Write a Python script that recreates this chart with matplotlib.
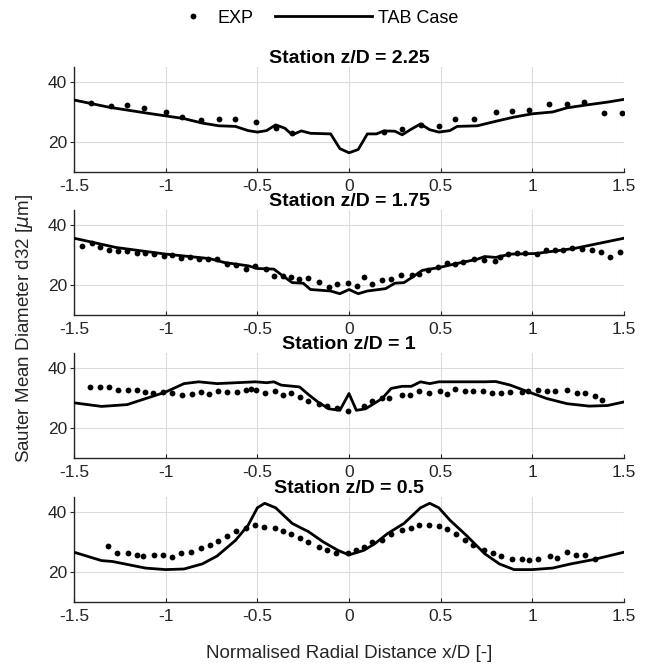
import matplotlib.pyplot as plt
from matplotlib.lines import Line2D

plt.rcParams['font.family'] = ['Liberation Sans', 'DejaVu Sans']

# Station z/D = 2.25
x_exp_225 = [-1.41, -1.30, -1.21, -1.12, -1.00, -0.91, -0.81, -0.71, -0.62, -0.51, -0.40, -0.31,
             0.19, 0.29, 0.39, 0.49, 0.58, 0.68, 0.80, 0.89, 0.98, 1.09, 1.19, 1.28, 1.39, 1.49]
d32_exp_225 = [33.0, 31.9, 32.1, 31.1, 29.9, 28.1, 27.3, 27.7, 27.7, 26.6, 24.5, 22.8,
               23.3, 24.3, 25.6, 25.4, 27.6, 27.7, 29.8, 30.1, 30.6, 32.7, 32.7, 33.2, 29.6, 29.6]
x_tab_225 = [-1.5, -1.31, -1.11, -0.90, -0.80, -0.71, -0.62, -0.55, -0.50, -0.45, -0.40, -0.35,
             -0.31, -0.26, -0.21, -0.10, -0.05, 0.0, 0.05, 0.10, 0.15, 0.19, 0.25, 0.29, 0.34,
             0.39, 0.44, 0.49, 0.55, 0.59, 0.70, 0.80, 0.90, 1.00, 1.11, 1.19, 1.29, 1.41, 1.5]
d32_tab_225 = [33.9, 31.5, 29.6, 27.7, 26.2, 25.3, 25.1, 23.7, 23.2, 23.7, 25.6, 24.5,
               22.3, 23.6, 22.8, 22.6, 17.7, 16.3, 17.4, 22.6, 22.6, 23.6, 23.5, 22.3, 24.2,
               25.9, 24.0, 23.2, 23.7, 25.1, 25.3, 26.8, 28.2, 29.3, 29.9, 31.3, 32.2, 33.2, 34.1]

# Station z/D = 1.75
x_exp_175 = [-1.455, -1.404, -1.357, -1.307, -1.258, -1.209, -1.158, -1.111, -1.062, -1.008,
             -0.963, -0.916, -0.865, -0.816, -0.769, -0.718, -0.666, -0.615, -0.564, -0.513,
             -0.451, -0.410, -0.359, -0.314, -0.271, -0.226, -0.161, -0.109, -0.066, -0.005,
             0.046, 0.081, 0.126, 0.179, 0.228, 0.286, 0.343, 0.384, 0.433, 0.486,
             0.532, 0.577, 0.624, 0.679, 0.736, 0.798, 0.822, 0.869, 0.917, 0.962,
             1.027, 1.074, 1.121, 1.167, 1.218, 1.269, 1.326, 1.375, 1.422, 1.480]
d32_exp_175 = [33.1, 33.9, 32.8, 31.8, 31.4, 31.4, 30.6, 30.8, 30.3, 29.7,
               30.1, 28.9, 29.4, 28.8, 28.8, 28.6, 26.9, 26.7, 25.3, 26.4,
               25.3, 23.1, 23.1, 22.8, 22.1, 22.2, 21.1, 19.3, 20.2, 20.6,
               19.7, 22.7, 20.4, 21.7, 21.9, 23.4, 23.2, 23.6, 24.9, 26.0,
               27.2, 26.9, 27.8, 28.6, 28.3, 28.0, 29.5, 30.5, 30.6, 30.8,
               30.3, 31.7, 31.7, 31.6, 32.2, 31.9, 31.6, 31.0, 29.5, 31.0]
x_tab_175 = [-1.5, -1.27, -1.00, -0.76, -0.68, -0.55, -0.50, -0.41, -0.36, -0.31, -0.25,
             -0.21, -0.10, -0.05, 0.0, 0.05, 0.10, 0.20, 0.25, 0.30, 0.35, 0.40, 0.49,
             0.59, 0.70, 0.74, 0.80, 0.88, 1.02, 1.23, 1.5]
d32_tab_175 = [35.6, 32.5, 30.3, 28.8, 27.5, 26.4, 25.5, 25.3, 23.0, 20.8, 20.6,
               18.5, 18.0, 17.1, 18.5, 17.1, 18.0, 18.8, 20.6, 20.8, 22.8, 24.9, 25.8,
               27.2, 28.6, 29.5, 29.2, 30.3, 30.5, 32.2, 35.6]

# Station z/D = 1
x_exp_1 = [-1.414, -1.357, -1.307, -1.260, -1.205, -1.154, -1.111, -1.070, -1.015, -0.963,
           -0.912, -0.857, -0.810, -0.763, -0.714, -0.666, -0.611, -0.564, -0.533, -0.509,
           -0.458, -0.406, -0.359, -0.314, -0.267, -0.222, -0.165, -0.118, -0.066, -0.005,
           0.081, 0.128, 0.179, 0.220, 0.290, 0.331, 0.384, 0.439, 0.495, 0.532,
           0.577, 0.630, 0.675, 0.732, 0.781, 0.828, 0.880, 0.945, 0.978, 1.029,
           1.080, 1.125, 1.187, 1.244, 1.285, 1.340, 1.381]
d32_exp_1 = [33.8, 33.8, 33.8, 32.9, 32.9, 32.7, 32.1, 31.9, 32.1, 31.8,
             31.2, 31.3, 32.1, 31.3, 32.5, 32.1, 32.1, 32.7, 33.0, 32.9,
             31.9, 32.5, 31.0, 31.9, 30.4, 29.0, 28.2, 27.6, 26.9, 25.7,
             27.6, 29.0, 30.2, 30.1, 31.2, 31.2, 32.4, 31.9, 32.4, 31.4,
             33.0, 32.4, 32.4, 32.4, 31.9, 31.9, 32.1, 32.1, 32.4, 32.9,
             32.4, 32.4, 32.9, 31.9, 31.9, 30.8, 29.6]
x_tab_1 = [-1.5, -1.35, -1.21, -1.11, -1.00, -0.90, -0.82, -0.72, -0.51, -0.45, -0.41,
           -0.37, -0.27, -0.22, -0.17, -0.11, -0.05, 0.0, 0.04, 0.09, 0.18, 0.23, 0.29,
           0.34, 0.39, 0.44, 0.49, 0.74, 0.80, 0.88, 0.98, 1.08, 1.19, 1.31, 1.41, 1.5]
d32_tab_1 = [28.5, 27.3, 27.9, 29.9, 32.1, 34.9, 35.5, 34.9, 35.5, 35.2, 35.5,
             34.4, 33.8, 31.2, 28.8, 26.5, 26.0, 31.6, 26.0, 26.5, 29.9, 33.3, 34.0,
             34.0, 35.5, 34.9, 35.5, 35.5, 35.6, 34.4, 32.1, 29.9, 28.2, 27.4, 27.6, 28.8]

# Station z/D = 0.5
x_exp_05 = [-1.312, -1.264, -1.205, -1.158, -1.123, -1.066, -1.015, -0.963, -0.916, -0.861,
            -0.810, -0.759, -0.714, -0.666, -0.615, -0.564, -0.513, -0.462, -0.404, -0.359,
            -0.318, -0.267, -0.222, -0.165, -0.120, -0.073, -0.005, 0.040, 0.081, 0.128,
            0.179, 0.228, 0.290, 0.337, 0.384, 0.439, 0.490, 0.532, 0.583, 0.630,
            0.675, 0.736, 0.787, 0.828, 0.890, 0.941, 0.982, 1.033, 1.094, 1.135,
            1.187, 1.238, 1.289, 1.340]
d32_exp_05 = [28.5, 26.2, 26.2, 25.6, 25.1, 25.4, 25.4, 25.0, 26.2, 26.7,
              27.9, 28.8, 30.2, 31.8, 33.5, 34.6, 35.5, 34.9, 34.7, 33.6,
              32.4, 31.3, 29.9, 28.2, 27.1, 26.2, 26.3, 27.1, 28.2, 29.9,
              30.7, 32.5, 33.8, 34.4, 35.5, 35.5, 35.2, 34.2, 32.5, 30.7,
              29.0, 27.1, 26.2, 25.2, 24.3, 24.3, 24.0, 24.3, 25.2, 24.5,
              26.5, 25.6, 25.7, 24.3]
x_tab_05 = [-1.5, -1.35, -1.29, -1.11, -1.00, -0.90, -0.80, -0.72, -0.62, -0.55, -0.50,
            -0.46, -0.40, -0.31, -0.22, -0.14, -0.06, 0.0, 0.08, 0.14, 0.21, 0.30, 0.39,
            0.44, 0.49, 0.55, 0.64, 0.74, 0.82, 0.90, 1.00, 1.11, 1.21, 1.33, 1.5]
d32_tab_05 = [26.5, 23.7, 23.4, 21.2, 20.7, 20.9, 22.6, 25.2, 30.4, 35.5, 41.3,
              42.8, 41.3, 36.1, 33.3, 29.9, 27.1, 25.6, 27.1, 29.3, 32.7, 36.1, 41.3,
              42.8, 41.3, 37.2, 32.1, 26.0, 22.6, 20.7, 20.7, 21.2, 22.6, 24.0, 26.5]

stations = ['2.25', '1.75', '1', '0.5']
exp_x = [x_exp_225, x_exp_175, x_exp_1, x_exp_05]
exp_d32 = [d32_exp_225, d32_exp_175, d32_exp_1, d32_exp_05]
tab_x = [x_tab_225, x_tab_175, x_tab_1, x_tab_05]
tab_d32 = [d32_tab_225, d32_tab_175, d32_tab_1, d32_tab_05]

xticks = [-1.5, -1, -0.5, 0, 0.5, 1, 1.5]
xticklabels = ['-1.5', '-1', '-0.5', '0', '0.5', '1', '1.5']
yticks = [20, 40]

dark = '#262626'
fig = plt.figure(figsize=(6.48, 6.65), dpi=100)

bottoms = [0.7418, 0.5263, 0.3108, 0.0952]
for i in range(len(stations)):
    ax = fig.add_axes([0.1142, bottoms[i], 0.8488, 0.1579])
    ax.plot(tab_x[i], tab_d32[i], color='k', lw=2.0, zorder=3)
    ax.plot(exp_x[i], exp_d32[i], 'o', color='k', ms=4.2, mec='none', zorder=4)
    ax.set_xlim(-1.5, 1.5)
    ax.set_ylim(10, 45)
    ax.set_xticks(xticks)
    ax.set_xticklabels(xticklabels)
    ax.set_yticks(yticks)
    ax.grid(True, color='#dcdcdc', lw=0.8)
    ax.set_axisbelow(True)
    for side in ['top', 'right']:
        ax.spines[side].set_visible(False)
    for side in ['left', 'bottom']:
        ax.spines[side].set_color(dark)
        ax.spines[side].set_linewidth(1.0)
    ax.tick_params(axis='x', direction='in', length=3, pad=5, labelsize=12.5,
                   colors=dark)
    ax.tick_params(axis='y', direction='out', length=3, pad=2, labelsize=12.5,
                   colors=dark)
    ax.set_title(f'Station z/D = {stations[i]}', fontsize=14, fontweight='bold',
                 pad=2.5, color='k')

fig.text(0.038, 0.506, 'Sauter Mean Diameter d32 [$\\mu$m]', rotation=90,
         ha='center', va='center', fontsize=13.5, color=dark)
fig.text(0.5386, 0.018, 'Normalised Radial Distance x/D [-]', ha='center',
         va='center', fontsize=13.5, color=dark)

# legend entries drawn as two frameless legends so each handle keeps its own width
exp_handle = Line2D([], [], ls='none', marker='o', color='k', ms=4.2, mec='none')
tab_handle = Line2D([], [], color='k', lw=2.0)
fig.legend([exp_handle], ['EXP'], loc='center left', bbox_to_anchor=(0.284, 0.9725),
           frameon=False, fontsize=13, handlelength=1.0, handletextpad=0.83,
           borderpad=0, borderaxespad=0)
fig.legend([tab_handle], ['TAB Case'], loc='center left', bbox_to_anchor=(0.4244, 0.9725),
           frameon=False, fontsize=13, handlelength=5.37, handletextpad=0.33,
           borderpad=0, borderaxespad=0)

fig.savefig('out.png', dpi=100)
